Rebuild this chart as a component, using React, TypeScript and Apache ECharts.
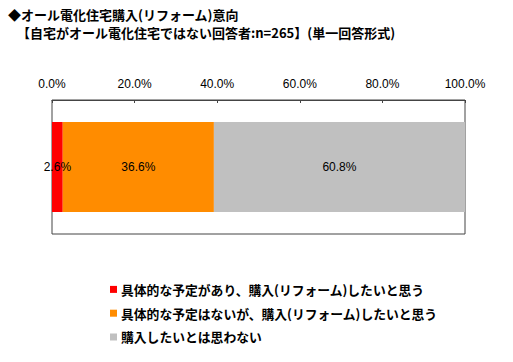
import React, { useEffect, useRef } from "react";
import * as echarts from "echarts";

const titleLine1 = "◆オール電化住宅購入(リフォーム)意向";
const titleLine2 = "【自宅がオール電化住宅ではない回答者:n=265】(単一回答形式)";
const categories = [""];
const seriesNames = [
  "具体的な予定があり、購入(リフォーム)したいと思う",
  "具体的な予定はないが、購入(リフォーム)したいと思う",
  "購入したいとは思わない",
];
const seriesValues = [[2.6], [36.6], [60.8]];
const seriesColors = ["#FF0000", "#FF8C00", "#C0C0C0"];
const tickMin = 0;
const tickMax = 100;
const tickStep = 20;

export default function App() {
  const ref = useRef<HTMLDivElement>(null);
  useEffect(() => {
    if (!ref.current) return;
    const chart = echarts.init(ref.current, null, { renderer: "svg" });
    const cjk = "'Noto Sans CJK JP', sans-serif";
    const latin = "'Liberation Sans', Arial, sans-serif";
    chart.setOption({
      animation: false,
      backgroundColor: "#ffffff",
      title: [
        {
          text: titleLine1,
          left: 8,
          top: 8,
          padding: 0,
          textStyle: { fontFamily: cjk, fontSize: 13, fontWeight: "bold", color: "#000" },
        },
        {
          text: titleLine2,
          left: 17,
          top: 26,
          padding: 0,
          textStyle: { fontFamily: cjk, fontSize: 13, fontWeight: "bold", color: "#000" },
        },
      ],
      legend: {
        orient: "vertical",
        left: 110,
        top: 283,
        itemWidth: 7,
        itemHeight: 7,
        itemGap: 11,
        icon: "rect",
        padding: 0,
        data: seriesNames,
        textStyle: { fontFamily: cjk, fontSize: 12.8, fontWeight: "bold", color: "#000", padding: [0, 0, 0, -1] },
      },
      grid: {
        left: 52,
        top: 100,
        width: 413,
        height: 134,
        show: true,
        borderColor: "#444",
        borderWidth: 1,
      },
      xAxis: {
        type: "value",
        position: "top",
        min: tickMin,
        max: tickMax,
        interval: tickStep,
        axisLine: { show: true, lineStyle: { color: "#444" } },
        axisTick: { show: true, inside: true, length: 3, lineStyle: { color: "#444" } },
        splitLine: { show: false },
        axisLabel: {
          margin: 10,
          fontFamily: latin,
          fontSize: 12,
          color: "#000",
          formatter: (v: number) => v.toFixed(1) + "%",
        },
      },
      yAxis: {
        type: "category",
        data: categories,
        axisLine: { show: false },
        axisTick: { show: false },
        axisLabel: { show: false },
      },
      series: seriesNames.map((name, i) => ({
        name,
        type: "bar",
        stack: "total",
        barWidth: 90,
        data: seriesValues[i],
        itemStyle: { color: seriesColors[i] },
        label: {
          show: true,
          position: "inside",
          fontFamily: latin,
          fontSize: 12,
          color: "#000",
          formatter: (p: any) => Number(p.value).toFixed(1) + "%",
        },
      })),
    });
    return () => chart.dispose();
  }, []);
  return (
    <div
      ref={ref}
      style={{ position: "absolute", left: 0, top: 0, width: 513, height: 362 }}
    />
  );
}
